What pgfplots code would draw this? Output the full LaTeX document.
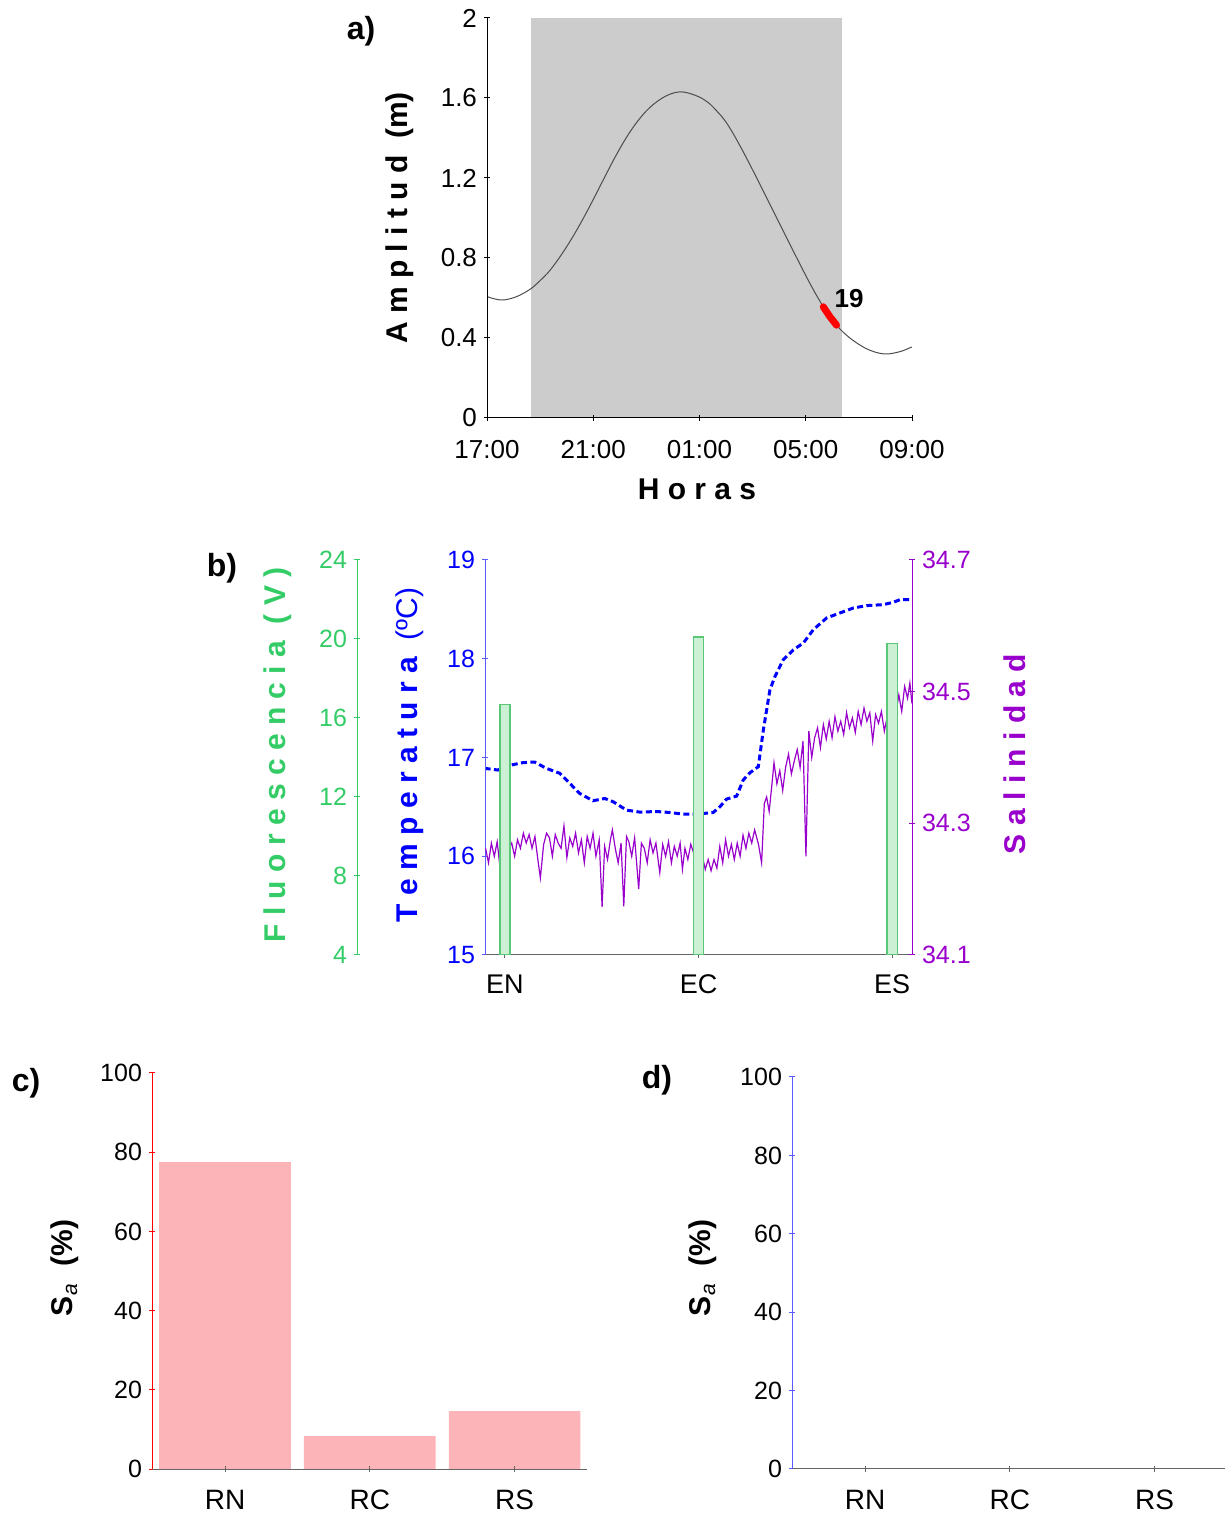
\documentclass[border=0pt]{standalone}
\usepackage{fontspec}
\setmainfont{Liberation Sans}
\usepackage{pgfplots}
\pgfplotsset{compat=1.18}

\definecolor{fgreen}{RGB}{51,204,102}
\definecolor{tblue}{RGB}{0,0,255}
\definecolor{tblueax}{RGB}{90,90,255}
\definecolor{sal}{RGB}{153,0,204}
\definecolor{barpink}{RGB}{253,180,184}
\definecolor{bargreen}{RGB}{204,240,212}
\definecolor{bargreenE}{RGB}{90,200,120}
\definecolor{shade}{RGB}{204,204,204}
\definecolor{axgray}{RGB}{100,100,100}

\newcommand{\tfont}{\fontsize{12.5}{12.5}\selectfont}
\newcommand{\lfont}{\fontsize{15}{15}\selectfont\bfseries}
\newcommand{\pfont}{\fontsize{16}{16}\selectfont\bfseries}

\pgfplotsset{
  base/.style={scale only axis, anchor=south west, tick align=outside,
    major tick length=3pt, axis line style={line width=0.5pt},
    tick style={line width=0.5pt},
    /pgf/number format/assume math mode=true,
    ticklabel style={font=\tfont},
    axis on top},
  noarrows/.style={axis line style={-}, x axis line style={-}, y axis line style={-},
    every outer x axis line/.append style={-}, every outer y axis line/.append style={-},
    every inner x axis line/.append style={-}, every inner y axis line/.append style={-}},
}

\begin{document}
\begin{tikzpicture}
\path[use as bounding box] (0,0) rectangle (612.5pt,757.5pt);

% ---------------- panel a ----------------
\begin{axis}[base, at={(243.5pt,548.5pt)}, width=212.5pt, height=200pt,
  xmin=0, xmax=16, ymin=0, ymax=2, axis lines=left,
  xtick={0,4,8,12,16}, xticklabels={17:00,21:00,01:00,05:00,09:00},
  ytick={0,0.4,0.8,1.2,1.6,2}, yticklabels={0,0.4,0.8,1.2,1.6,2},
  ticklabel style={font=\fontsize{13}{13}\selectfont},
  xticklabel style={yshift=-6pt},
  tick style={black}, noarrows]
\addplot[fill=shade, draw=none] coordinates {(1.66,0) (13.35,0) (13.35,2) (1.66,2)} -- cycle;
\addplot[smooth, color=black!70, line width=0.5pt] coordinates {
(0,0.607) (0.3,0.595) (0.63,0.59) (1.12,0.607) (1.68,0.649) (2.25,0.720)
(2.56,0.771) (2.87,0.830) (3.19,0.897) (3.5,0.968) (3.81,1.044) (4.13,1.126)
(4.44,1.207) (4.76,1.289) (5.07,1.363) (5.38,1.430) (5.7,1.489) (6.01,1.537)
(6.32,1.574) (6.64,1.603) (6.95,1.622) (7.27,1.631) (7.6,1.624) (8.02,1.603)
(8.4,1.569) (8.9,1.497) (9.21,1.435) (9.52,1.362) (9.84,1.282) (10.15,1.201)
(10.47,1.116) (10.78,1.034) (11.09,0.952) (11.41,0.867) (11.72,0.785) (12.04,0.702)
(12.35,0.626) (12.66,0.556) (12.9,0.508) (13.16,0.464) (13.4,0.430) (13.67,0.399)
(14.0,0.368) (14.29,0.346) (14.55,0.332) (14.8,0.323) (15.05,0.320) (15.3,0.324)
(15.65,0.336) (15.99,0.355)};
\addplot[red, line width=3.5pt, line cap=round] coordinates {(12.66,0.556) (12.9,0.508) (13.16,0.464)};
\node[font=\bfseries\fontsize{13}{13}\selectfont] at (axis cs:13.63,0.595) {19};
\end{axis}
\node[font=\pfont] at (180.5pt,742pt) {a)};
\node[font=\lfont, rotate=90] at (200pt,648.5pt) {A m p l i t u d \ (m)};
\node[font=\lfont] at (348.5pt,513pt) {H o r a s};

% ---------------- panel b ----------------
% fluorescence axis (scale only)
\begin{axis}[base, at={(178.5pt,280pt)}, width=1pt, height=197.5pt,
  xmin=0, xmax=1, ymin=4, ymax=24, axis x line=none, axis y line=left,
  y axis line style={fgreen}, ytick style={fgreen},
  ytick={4,8,12,16,20,24}, yticklabels={4,8,12,16,20,24},
  yticklabel style={text=fgreen}, noarrows]
\addplot[draw=none] coordinates {(0,4)};
\end{axis}
% temperature
\begin{axis}[base, at={(242.5pt,280pt)}, width=213.5pt, height=197.5pt,
  xmin=-0.103, xmax=2.103, ymin=15, ymax=19,
  axis x line=bottom, axis y line=left,
  x axis line style={axgray}, y axis line style={tblueax},
  xtick={0,1,2}, xticklabels={EN,EC,ES}, xtick style={axgray},
  xticklabel style={font=\fontsize{13.5}{13.5}\selectfont, yshift=-5pt},
  ytick={15,16,17,18,19}, yticklabels={15,16,17,18,19},
  ytick style={tblueax}, yticklabel style={text=tblue}, noarrows]
\addplot[tblue, line width=1.5pt, dash pattern=on 3pt off 1.7pt] coordinates {
(-0.105,16.89) (-0.036,16.873) (0.033,16.924) (0.093,16.948) (0.153,16.954)
(0.214,16.89) (0.283,16.84) (0.335,16.738) (0.386,16.636) (0.455,16.562)
(0.516,16.585) (0.559,16.552) (0.628,16.467) (0.697,16.447) (0.783,16.453)
(0.852,16.443) (0.921,16.426) (0.99,16.426) (1.076,16.443) (1.11,16.50)
(1.145,16.579) (1.197,16.609) (1.231,16.772) (1.266,16.846) (1.309,16.907)
(1.335,17.279) (1.369,17.685) (1.395,17.82) (1.438,17.99) (1.49,18.09)
(1.542,18.16) (1.593,18.294) (1.662,18.413) (1.731,18.464) (1.80,18.514)
(1.869,18.538) (1.955,18.548) (2.007,18.572) (2.042,18.599) (2.103,18.599)};
\end{axis}
% salinity
\begin{axis}[base, at={(242.5pt,280pt)}, width=213.5pt, height=197.5pt,
  xmin=-0.103, xmax=2.103, ymin=34.1, ymax=34.7,
  axis x line=none, axis y line=right,
  y axis line style={sal}, ytick style={sal},
  ytick={34.1,34.3,34.5,34.7}, yticklabels={34.1,34.3,34.5,34.7},
  yticklabel style={text=sal}, noarrows]
\addplot[sal, line width=0.6pt] coordinates {
(-0.100,34.262) (-0.085,34.240) (-0.070,34.270) (-0.055,34.250) (-0.040,34.272)
(-0.025,34.232) (-0.010,34.265) (0.005,34.255) (0.020,34.262) (0.035,34.270)
(0.050,34.250) (0.065,34.275) (0.080,34.262) (0.095,34.285) (0.110,34.270)
(0.125,34.283) (0.140,34.262) (0.155,34.280) (0.170,34.245) (0.183,34.217)
(0.200,34.268) (0.215,34.285) (0.230,34.278) (0.245,34.250) (0.260,34.283)
(0.275,34.270) (0.290,34.262) (0.305,34.296) (0.320,34.248) (0.335,34.278)
(0.350,34.265) (0.365,34.285) (0.380,34.255) (0.395,34.275) (0.410,34.240)
(0.425,34.280) (0.440,34.262) (0.455,34.285) (0.470,34.250) (0.487,34.275)
(0.502,34.173) (0.515,34.265) (0.530,34.245) (0.545,34.275) (0.555,34.290)
(0.570,34.262) (0.585,34.240) (0.600,34.270) (0.614,34.174) (0.628,34.280)
(0.640,34.272) (0.655,34.250) (0.670,34.278) (0.691,34.200) (0.705,34.270)
(0.720,34.262) (0.735,34.240) (0.750,34.275) (0.765,34.255) (0.780,34.270)
(0.800,34.225) (0.815,34.268) (0.830,34.250) (0.845,34.272) (0.860,34.240)
(0.875,34.265) (0.890,34.250) (0.905,34.270) (0.917,34.230) (0.930,34.262)
(0.945,34.245) (0.960,34.268) (0.975,34.255) (0.990,34.240) (1.005,34.262)
(1.020,34.250) (1.035,34.230) (1.050,34.245) (1.065,34.228) (1.080,34.245)
(1.095,34.232) (1.110,34.265) (1.125,34.240) (1.140,34.275) (1.155,34.250)
(1.170,34.268) (1.185,34.245) (1.200,34.270) (1.215,34.250) (1.230,34.282)
(1.245,34.262) (1.260,34.285) (1.275,34.270) (1.290,34.290) (1.310,34.268)
(1.326,34.240) (1.340,34.330) (1.352,34.340) (1.365,34.318) (1.378,34.355)
(1.390,34.392) (1.405,34.360) (1.420,34.380) (1.435,34.350) (1.450,34.385)
(1.465,34.405) (1.480,34.375) (1.495,34.395) (1.510,34.412) (1.525,34.385)
(1.540,34.425) (1.555,34.250) (1.570,34.440) (1.585,34.400) (1.600,34.430)
(1.615,34.445) (1.630,34.415) (1.645,34.450) (1.660,34.428) (1.675,34.455)
(1.690,34.430) (1.705,34.462) (1.720,34.440) (1.735,34.455) (1.750,34.435)
(1.765,34.468) (1.780,34.445) (1.795,34.460) (1.810,34.438) (1.825,34.470)
(1.840,34.450) (1.855,34.475) (1.870,34.455) (1.885,34.468) (1.900,34.425)
(1.915,34.465) (1.930,34.452) (1.945,34.470) (1.960,34.440) (1.975,34.462)
(1.990,34.435) (2.005,34.480) (2.020,34.468) (2.035,34.495) (2.050,34.470)
(2.065,34.508) (2.080,34.490) (2.092,34.513) (2.103,34.482)};
\end{axis}
% fluorescence bars
\begin{axis}[base, at={(242.5pt,280pt)}, width=213.5pt, height=197.5pt,
  xmin=-0.103, xmax=2.103, ymin=4, ymax=24, axis lines=none]
\addplot[ybar, bar width=0.052, fill=bargreen, draw=bargreenE, line width=0.6pt]
  coordinates {(0,16.7) (1,20.1) (2,19.76)};
\end{axis}
\node[font=\pfont] at (111pt,473.5pt) {b)};
\node[font=\lfont, rotate=90, text=fgreen] at (139pt,380pt) {F l u o r e s c e n c i a \ ( V )};
\node[font=\lfont, rotate=90, text=tblue] at (205pt,380pt) {T e m p e r a t u r a\ \ {\mdseries(ºC)}};
\node[font=\lfont, rotate=90, text=sal] at (507.5pt,380.5pt) {S a l i n i d a d};

% ---------------- panel c ----------------
\begin{axis}[base, at={(76pt,23pt)}, width=217.5pt, height=198pt,
  xmin=-0.505, xmax=2.5, ymin=0, ymax=100,
  axis x line=bottom, axis y line=left,
  x axis line style={axgray}, y axis line style={red},
  xtick={0,1,2}, xticklabels={RN,RC,RS}, xtick style={axgray},
  xticklabel style={font=\fontsize{14}{14}\selectfont, yshift=-5.5pt},
  ytick={0,20,40,60,80,100}, yticklabels={0,20,40,60,80,100},
  ytick style={red}, noarrows]
\addplot[ybar, bar width=0.91, fill=barpink, draw=none]
  coordinates {(0,77.5) (1,8.3) (2,14.6)};
\end{axis}
\node[font=\pfont] at (13pt,216pt) {c)};
\node[font=\lfont, rotate=90] at (32.5pt,123.5pt) {S\textsubscript{\mdseries\itshape a}\ \ (\%)};

% ---------------- panel d ----------------
\begin{axis}[base, at={(396pt,23pt)}, width=217.5pt, height=196pt,
  xmin=-0.505, xmax=2.5, ymin=0, ymax=100,
  axis x line=bottom, axis y line=left,
  x axis line style={axgray}, y axis line style={tblueax},
  xtick={0,1,2}, xticklabels={RN,RC,RS}, xtick style={axgray},
  xticklabel style={font=\fontsize{14}{14}\selectfont, yshift=-5.5pt},
  ytick={0,20,40,60,80,100}, yticklabels={0,20,40,60,80,100},
  ytick style={tblueax}, noarrows]
\addplot[draw=none] coordinates {(0,0)};
\end{axis}
\node[font=\pfont] at (328.5pt,217.5pt) {d)};
\node[font=\lfont, rotate=90] at (351.5pt,123.5pt) {S\textsubscript{\mdseries\itshape a}\ \ (\%)};
\end{tikzpicture}
\end{document}
